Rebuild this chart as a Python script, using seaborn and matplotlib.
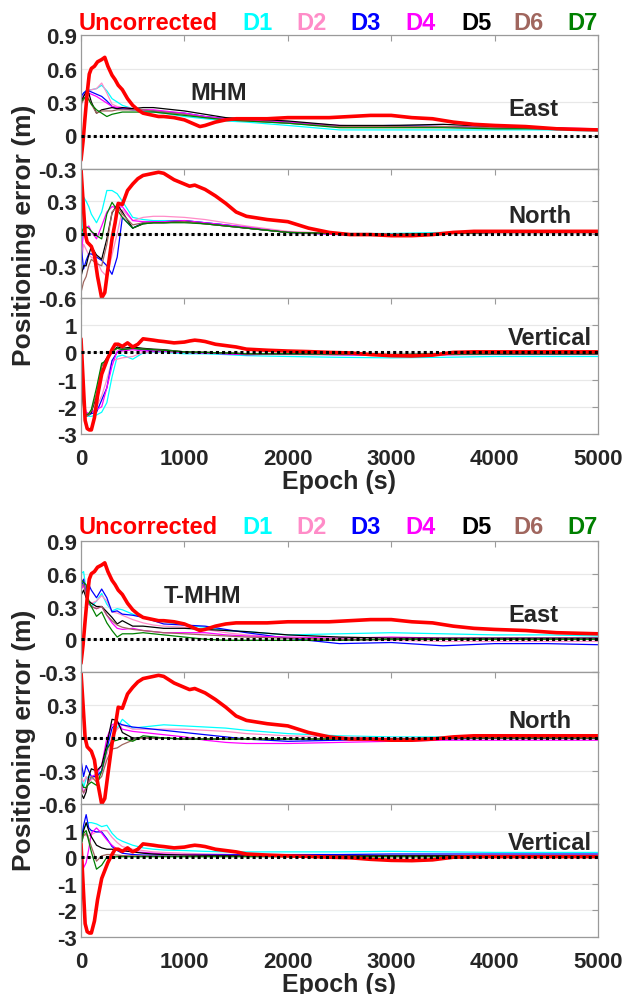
import numpy as np
import pandas as pd
import matplotlib
matplotlib.use("Agg")
import matplotlib.pyplot as plt
import seaborn as sns

# === DATA ===

SERIES = ["D1", "D2", "D3", "D4", "D5", "D6", "D7"]
COLORS = {"Uncorrected": "#ff0000", "D1": "#00ffff", "D2": "#ff8cc8", "D3": "#0000ff",
          "D4": "#ff00ff", "D5": "#000000", "D6": "#a0665e", "D7": "#008000"}

EPOCH = [0, 25, 50, 75, 100, 150, 200, 250, 300, 350, 400, 500, 600, 700, 800,
         1000, 1200, 1400, 1600, 2000, 2500, 3000, 3500, 4000, 4500, 5000]

RED_EPOCH = [0, 20, 40, 60, 80, 100, 130, 160, 200, 230, 260, 300, 330, 360, 400, 450,
             500, 550, 600, 700, 750, 800, 900, 1000, 1050, 1100, 1150, 1200, 1300, 1400,
             1500, 1600, 1800, 2000, 2200, 2400, 2600, 2800, 3000, 3200, 3400, 3600,
             3800, 4000, 4300, 4600, 5000]

# uncorrected solution (same in both figures)
red_east = [-0.22, -0.05, 0.17, 0.38, 0.55, 0.60, 0.62, 0.66, 0.68, 0.70, 0.62, 0.54, 0.50,
            0.45, 0.41, 0.33, 0.27, 0.23, 0.20, 0.18, 0.17, 0.17, 0.16, 0.14, 0.12, 0.10,
            0.08, 0.09, 0.12, 0.14, 0.15, 0.15, 0.15, 0.16, 0.16, 0.16, 0.17, 0.18, 0.18,
            0.16, 0.15, 0.12, 0.10, 0.09, 0.08, 0.06, 0.05]
red_north = [0.60, 0.30, 0.00, -0.08, -0.10, -0.12, -0.20, -0.40, -0.60, -0.55, -0.33, -0.05,
             0.10, 0.28, 0.27, 0.40, 0.46, 0.51, 0.54, 0.56, 0.57, 0.56, 0.50, 0.46, 0.44,
             0.45, 0.43, 0.41, 0.35, 0.28, 0.20, 0.16, 0.13, 0.11, 0.05, 0.01, -0.01, -0.01,
             -0.02, -0.02, -0.01, 0.01, 0.02, 0.02, 0.02, 0.02, 0.02]
red_vert = [0.5, -1.0, -2.5, -2.8, -2.85, -2.85, -2.4, -1.6, -0.8, -0.5, -0.2, 0.1, 0.3, 0.3,
            0.22, 0.35, 0.2, 0.3, 0.5, 0.45, 0.42, 0.4, 0.35, 0.38, 0.42, 0.45, 0.43, 0.4,
            0.3, 0.25, 0.2, 0.12, 0.08, 0.05, 0.03, 0.0, -0.02, -0.08, -0.12, -0.13, -0.1,
            0.0, 0.02, 0.02, 0.02, 0.02, 0.02]

# MHM
mhm_east = {
    "D1": [0.30, 0.38, 0.40, 0.41, 0.41, 0.42, 0.45, 0.40, 0.33, 0.30, 0.27, 0.24, 0.22, 0.21, 0.20, 0.17, 0.15, 0.13, 0.12, 0.09, 0.05, 0.05, 0.05, 0.05, 0.05, 0.04],
    "D2": [0.25, 0.35, 0.38, 0.40, 0.41, 0.42, 0.47, 0.38, 0.28, 0.26, 0.25, 0.24, 0.23, 0.22, 0.21, 0.19, 0.17, 0.15, 0.14, 0.11, 0.08, 0.08, 0.08, 0.07, 0.06, 0.05],
    "D3": [0.35, 0.38, 0.40, 0.40, 0.39, 0.37, 0.35, 0.31, 0.26, 0.24, 0.24, 0.23, 0.23, 0.22, 0.21, 0.20, 0.17, 0.15, 0.14, 0.12, 0.08, 0.09, 0.08, 0.07, 0.06, 0.05],
    "D4": [0.30, 0.36, 0.38, 0.38, 0.37, 0.35, 0.32, 0.29, 0.26, 0.25, 0.25, 0.24, 0.23, 0.23, 0.22, 0.20, 0.17, 0.15, 0.14, 0.12, 0.09, 0.08, 0.08, 0.07, 0.07, 0.06],
    "D5": [0.30, 0.35, 0.39, 0.38, 0.30, 0.20, 0.23, 0.24, 0.25, 0.24, 0.25, 0.24, 0.25, 0.25, 0.24, 0.22, 0.19, 0.16, 0.15, 0.13, 0.09, 0.09, 0.10, 0.08, 0.07, 0.05],
    "D6": [0.28, 0.32, 0.35, 0.33, 0.28, 0.20, 0.22, 0.22, 0.22, 0.23, 0.23, 0.23, 0.23, 0.22, 0.21, 0.19, 0.16, 0.14, 0.13, 0.11, 0.08, 0.08, 0.08, 0.07, 0.06, 0.05],
    "D7": [0.30, 0.33, 0.35, 0.32, 0.28, 0.23, 0.20, 0.17, 0.19, 0.20, 0.21, 0.21, 0.21, 0.21, 0.20, 0.18, 0.16, 0.14, 0.13, 0.11, 0.07, 0.07, 0.07, 0.06, 0.06, 0.05],
}
mhm_north = {
    "D1": [-0.50, 0.34, 0.30, 0.25, 0.18, 0.10, 0.20, 0.40, 0.40, 0.37, 0.30, 0.15, 0.13, 0.12, 0.12, 0.12, 0.10, 0.08, 0.06, 0.01, 0.00, 0.00, 0.01, 0.01, 0.01, 0.01],
    "D2": [-0.30, -0.10, -0.15, -0.20, -0.22, -0.25, -0.35, -0.40, -0.20, 0.00, 0.22, 0.12, 0.15, 0.16, 0.16, 0.15, 0.13, 0.10, 0.07, 0.02, 0.00, -0.01, 0.00, 0.01, 0.01, 0.01],
    "D3": [-0.10, -0.33, -0.25, -0.19, -0.19, -0.22, -0.25, -0.30, -0.38, -0.22, 0.15, 0.05, 0.10, 0.11, 0.11, 0.12, 0.10, 0.08, 0.05, 0.01, -0.01, -0.02, 0.00, 0.01, 0.01, 0.01],
    "D4": [-0.20, 0.00, 0.05, 0.07, 0.02, -0.05, 0.07, 0.20, 0.25, 0.24, 0.25, 0.12, 0.11, 0.11, 0.11, 0.12, 0.10, 0.08, 0.06, 0.01, -0.01, -0.01, 0.00, 0.01, 0.01, 0.01],
    "D5": [-0.40, -0.30, -0.30, -0.20, -0.12, -0.20, -0.24, -0.05, 0.19, 0.27, 0.20, 0.05, 0.09, 0.10, 0.10, 0.11, 0.09, 0.07, 0.05, 0.01, 0.00, -0.01, 0.00, 0.01, 0.01, 0.01],
    "D6": [-0.55, -0.45, -0.40, -0.30, -0.24, -0.28, -0.30, -0.10, 0.20, 0.25, 0.18, 0.08, 0.10, 0.10, 0.10, 0.11, 0.09, 0.07, 0.05, 0.01, 0.00, -0.01, 0.00, 0.01, 0.01, 0.01],
    "D7": [0.00, 0.05, 0.06, 0.05, 0.02, -0.02, -0.05, 0.18, 0.29, 0.22, 0.15, 0.05, 0.09, 0.10, 0.10, 0.10, 0.09, 0.07, 0.05, 0.01, 0.00, -0.01, 0.00, 0.01, 0.01, 0.01],
}
mhm_vert = {
    "D1": [-0.5, -1.8, -2.3, -2.35, -2.35, -2.3, -2.2, -1.85, -0.9, -0.15, -0.1, -0.25, -0.02, 0.0, 0.0, -0.05, -0.05, -0.08, -0.12, -0.15, -0.18, -0.2, -0.18, -0.15, -0.15, -0.15],
    "D2": [-0.3, -1.8, -2.2, -2.25, -2.25, -2.0, -1.6, -1.0, -0.3, -0.25, -0.2, -0.15, 0.0, 0.02, 0.02, 0.0, -0.02, -0.05, -0.08, -0.08, -0.1, -0.1, -0.1, -0.08, -0.08, -0.08],
    "D3": [-0.3, -1.9, -2.3, -2.3, -2.25, -2.2, -1.75, -1.3, -0.3, 0.0, 0.1, 0.15, 0.1, 0.05, 0.05, 0.0, -0.02, -0.05, -0.08, -0.06, -0.08, -0.1, -0.08, -0.06, -0.06, -0.06],
    "D4": [-0.2, -1.8, -2.2, -2.25, -2.2, -2.1, -2.0, -1.3, -0.5, 0.05, 0.05, 0.1, 0.05, 0.05, 0.05, 0.0, -0.02, -0.05, -0.08, -0.06, -0.08, -0.1, -0.08, -0.06, -0.06, -0.06],
    "D5": [-0.2, -2.0, -2.35, -2.3, -2.2, -1.6, -0.5, -0.2, 0.0, 0.2, 0.15, 0.2, 0.15, 0.12, 0.1, 0.02, 0.0, -0.02, -0.05, -0.05, -0.06, -0.08, -0.06, -0.05, -0.05, -0.05],
    "D6": [-0.2, -2.0, -2.35, -2.3, -2.15, -1.5, -0.5, -0.25, 0.0, 0.15, 0.12, 0.15, 0.12, 0.1, 0.08, 0.02, 0.0, -0.02, -0.05, -0.05, -0.06, -0.08, -0.06, -0.05, -0.05, -0.05],
    "D7": [-0.2, -2.0, -2.3, -2.25, -2.1, -1.3, -0.4, -0.3, 0.05, 0.15, 0.1, 0.15, 0.12, 0.1, 0.08, 0.02, 0.0, -0.02, -0.05, -0.05, -0.06, -0.08, -0.06, -0.05, -0.05, -0.05],
}

# T-MHM
tmhm_east = {
    "D1": [0.60, 0.62, 0.45, 0.35, 0.30, 0.35, 0.42, 0.32, 0.26, 0.28, 0.27, 0.23, 0.20, 0.18, 0.16, 0.13, 0.11, 0.08, 0.07, 0.04, 0.05, 0.06, 0.05, 0.04, 0.04, 0.03],
    "D2": [0.50, 0.55, 0.45, 0.35, 0.33, 0.35, 0.40, 0.35, 0.25, 0.24, 0.22, 0.18, 0.15, 0.13, 0.12, 0.11, 0.09, 0.06, 0.04, 0.01, -0.01, -0.01, -0.02, -0.02, -0.02, -0.02],
    "D3": [0.45, 0.55, 0.40, 0.50, 0.45, 0.38, 0.46, 0.38, 0.25, 0.26, 0.23, 0.22, 0.20, 0.17, 0.14, 0.13, 0.12, 0.09, 0.06, 0.01, -0.04, -0.03, -0.06, -0.04, -0.04, -0.05],
    "D4": [0.45, 0.50, 0.40, 0.32, 0.30, 0.28, 0.30, 0.22, 0.15, 0.10, 0.09, 0.10, 0.08, 0.07, 0.06, 0.06, 0.06, 0.04, 0.03, 0.02, 0.01, 0.02, 0.01, 0.01, 0.01, 0.01],
    "D5": [0.40, 0.45, 0.38, 0.35, 0.33, 0.30, 0.30, 0.25, 0.20, 0.14, 0.17, 0.12, 0.12, 0.11, 0.10, 0.10, 0.09, 0.08, 0.07, 0.04, 0.02, 0.01, 0.01, 0.01, 0.01, 0.01],
    "D6": [0.50, 0.50, 0.40, 0.33, 0.30, 0.28, 0.30, 0.22, 0.17, 0.13, 0.11, 0.09, 0.08, 0.07, 0.06, 0.05, 0.04, 0.03, 0.02, 0.01, 0.00, 0.00, 0.00, 0.00, 0.00, 0.00],
    "D7": [0.55, 0.52, 0.50, 0.35, 0.30, 0.21, 0.25, 0.15, 0.08, 0.02, 0.05, 0.05, 0.06, 0.05, 0.04, 0.02, 0.00, -0.01, -0.01, -0.01, -0.01, 0.00, 0.00, 0.00, 0.00, 0.00],
}
tmhm_north = {
    "D1": [-0.30, -0.45, -0.37, -0.35, -0.37, -0.33, -0.30, -0.12, 0.00, 0.09, 0.17, 0.09, 0.10, 0.11, 0.12, 0.11, 0.10, 0.09, 0.07, 0.04, 0.02, 0.01, 0.01, 0.01, 0.01, 0.01],
    "D2": [-0.35, -0.40, -0.35, -0.40, -0.38, -0.35, -0.32, -0.15, 0.00, 0.08, 0.12, 0.08, 0.08, 0.08, 0.08, 0.08, 0.07, 0.06, 0.04, 0.02, 0.01, 0.00, 0.00, 0.01, 0.01, 0.01],
    "D3": [-0.20, -0.35, -0.25, -0.30, -0.35, -0.35, -0.30, -0.10, 0.09, 0.14, 0.12, 0.10, 0.09, 0.08, 0.07, 0.05, 0.03, 0.01, -0.01, -0.03, -0.02, -0.01, -0.01, 0.00, 0.00, 0.00],
    "D4": [-0.40, -0.50, -0.45, -0.40, -0.35, -0.33, -0.25, 0.00, 0.12, 0.14, 0.08, 0.06, 0.05, 0.04, 0.03, 0.01, -0.02, -0.04, -0.05, -0.05, -0.04, -0.03, -0.02, -0.02, -0.02, -0.02],
    "D5": [-0.50, -0.55, -0.49, -0.35, -0.28, -0.30, -0.25, -0.06, 0.17, 0.16, 0.05, 0.00, 0.00, 0.00, 0.00, -0.01, -0.01, -0.01, -0.01, -0.01, -0.01, -0.01, 0.00, 0.00, 0.00, 0.00],
    "D6": [-0.45, -0.50, -0.45, -0.40, -0.35, -0.40, -0.35, -0.20, -0.10, -0.09, -0.06, -0.02, 0.00, 0.00, 0.00, -0.01, -0.01, -0.01, -0.01, -0.01, -0.01, -0.01, 0.00, 0.00, 0.00, 0.00],
    "D7": [-0.40, -0.45, -0.45, -0.42, -0.40, -0.43, -0.30, -0.10, -0.03, -0.02, 0.00, -0.03, 0.02, 0.01, 0.00, -0.01, -0.01, -0.01, -0.01, -0.01, -0.01, -0.01, 0.00, 0.00, 0.00, 0.00],
}
tmhm_vert = {
    "D1": [0.8, 1.1, 1.2, 1.3, 1.3, 1.25, 1.15, 1.2, 0.9, 0.7, 0.6, 0.45, 0.35, 0.3, 0.27, 0.25, 0.22, 0.2, 0.2, 0.2, 0.2, 0.22, 0.2, 0.18, 0.18, 0.18],
    "D2": [0.5, 0.9, 0.8, 0.8, 0.85, 0.95, 1.0, 1.0, 0.75, 0.55, 0.4, 0.3, 0.25, 0.2, 0.18, 0.15, 0.12, 0.1, 0.08, 0.05, 0.03, 0.02, 0.02, 0.02, 0.02, 0.02],
    "D3": [0.5, 1.2, 1.6, 1.1, 1.0, 0.95, 0.95, 0.7, 0.4, 0.25, 0.15, 0.1, 0.08, 0.08, 0.08, 0.1, 0.1, 0.1, 0.1, 0.1, 0.1, 0.12, 0.12, 0.12, 0.12, 0.12],
    "D4": [0.3, -0.4, -0.2, 0.3, 0.9, 1.1, 0.9, 0.65, 0.45, 0.3, 0.25, 0.2, 0.18, 0.15, 0.12, 0.1, 0.08, 0.07, 0.06, 0.05, 0.05, 0.05, 0.05, 0.05, 0.05, 0.05],
    "D5": [0.5, 1.0, 1.3, 1.0, 0.77, 0.45, 0.35, 0.3, 0.3, 0.28, 0.25, 0.2, 0.15, 0.12, 0.1, 0.08, 0.07, 0.06, 0.05, 0.05, 0.05, 0.06, 0.06, 0.06, 0.06, 0.06],
    "D6": [0.5, 0.8, 0.9, 0.7, 0.4, -0.15, 0.05, 0.1, 0.1, 0.08, 0.06, 0.05, 0.05, 0.04, 0.04, 0.03, 0.03, 0.03, 0.03, 0.03, 0.03, 0.03, 0.03, 0.03, 0.03, 0.03],
    "D7": [0.4, 0.9, 1.0, 0.6, 0.2, -0.45, -0.3, 0.0, 0.0, 0.02, 0.02, 0.02, 0.02, 0.02, 0.02, 0.02, 0.02, 0.02, 0.02, 0.02, 0.02, 0.02, 0.02, 0.04, 0.05, 0.06],
}

COMPONENTS = ["East", "North", "Vertical"]
Y_LIMS = {"East": (-0.3, 0.9), "North": (-0.6, 0.6), "Vertical": (-3, 2)}
Y_TICKS = {"East": [-0.3, 0, 0.3, 0.6, 0.9], "North": [-0.6, -0.3, 0, 0.3, 0.6], "Vertical": [-3, -2, -1, 0, 1, 2]}
Y_TICKLABELS = {"East": ["-0.3", "0", "0.3", "0.6", "0.9"], "North": ["-0.6", "-0.3", "0", "0.3", ""],
                "Vertical": ["-3", "-2", "-1", "0", "1", ""]}
X_TICKS = [0, 1000, 2000, 3000, 4000, 5000]

# === FIGURE ===
sns.set_style("white")
plt.rcParams["font.family"] = ["Liberation Sans", "DejaVu Sans"]
plt.rcParams["font.weight"] = "bold"

W, H = 627, 995
fig = plt.figure(figsize=(W / 100, H / 100), dpi=100)
LEFT, RIGHT = 81, 598
AX_GRAY = "#9a9a9a"

groups = [
    {"name": "MHM", "data": [mhm_east, mhm_north, mhm_vert], "rows": [(36, 170), (170, 299), (299, 435)],
     "legend_y": 24, "name_xy": (219, 94), "label_y": [0.45, 0.64, 0.71]},
    {"name": "T-MHM", "data": [tmhm_east, tmhm_north, tmhm_vert], "rows": [(542, 673), (673, 805), (805, 938)],
     "legend_y": 528, "name_xy": (203, 597), "label_y": [0.44, 0.63, 0.71]},
]
red_data = [red_east, red_north, red_vert]
legend_x = {"Uncorrected": 79, "D1": 242, "D2": 296, "D3": 350, "D4": 405, "D5": 461, "D6": 513, "D7": 567}

for g in groups:
    for i, comp in enumerate(COMPONENTS):
        top, bottom = g["rows"][i]
        ax = fig.add_axes([LEFT / W, 1 - bottom / H, (RIGHT - LEFT) / W, (bottom - top) / H])

        long_df = pd.DataFrame({
            "epoch": np.tile(EPOCH, len(SERIES)),
            "error": np.concatenate([g["data"][i][s] for s in SERIES]),
            "series": np.repeat(SERIES, len(EPOCH)),
        })
        sns.lineplot(data=long_df, x="epoch", y="error", hue="series", palette=COLORS,
                     estimator=None, linewidth=0.9, legend=False, ax=ax)
        sns.lineplot(x=RED_EPOCH, y=red_data[i], color=COLORS["Uncorrected"],
                     estimator=None, linewidth=2.6, legend=False, ax=ax)
        ax.axhline(0, color="black", linestyle=(0, (1, 1)), linewidth=2.2, zorder=5)

        ax.set_xlim(0, 5000)
        ax.set_ylim(*Y_LIMS[comp])
        ax.set_yticks(Y_TICKS[comp])
        ax.set_yticklabels(Y_TICKLABELS[comp])
        ax.set_xticks(X_TICKS)
        ax.grid(axis="y", color="#e8e8e8", linewidth=0.9)
        ax.tick_params(direction="in", length=4, width=0.8, color=AX_GRAY, top=True, right=True,
                       labelsize=16, labelcolor="#262626", pad=3)
        ax.tick_params(axis="x", pad=10)
        for sp in ax.spines.values():
            sp.set_color(AX_GRAY)
            sp.set_linewidth(0.9)
        ax.set_ylabel("")
        if comp == "Vertical":
            ax.set_xticklabels([str(t) for t in X_TICKS])
            ax.set_xlabel("Epoch (s)", fontsize=18, fontweight="bold", color="#262626", labelpad=0)
        else:
            ax.set_xticklabels([])
            ax.set_xlabel("")
        ax.text(0.826, g["label_y"][i], comp, transform=ax.transAxes, fontsize=17,
                fontweight="bold", ha="left", va="center", zorder=6)

    # model name
    fig.text(g["name_xy"][0] / W, 1 - g["name_xy"][1] / H, g["name"], fontsize=17,
             fontweight="bold", ha="center", va="center")
    # coloured legend row
    for lab, xpx in legend_x.items():
        fig.text(xpx / W, 1 - g["legend_y"] / H, lab, color=COLORS[lab], fontsize=17,
                 fontweight="bold", ha="left", va="center")
    ytop, ybot = g["rows"][0][0], g["rows"][2][1]
    fig.text(24 / W, 1 - (ytop + ybot) / 2 / H, "Positioning error (m)", rotation=90,
             fontsize=19, fontweight="bold", color="#262626", ha="center", va="center")

fig.savefig("out.png", dpi=100, facecolor="white")
